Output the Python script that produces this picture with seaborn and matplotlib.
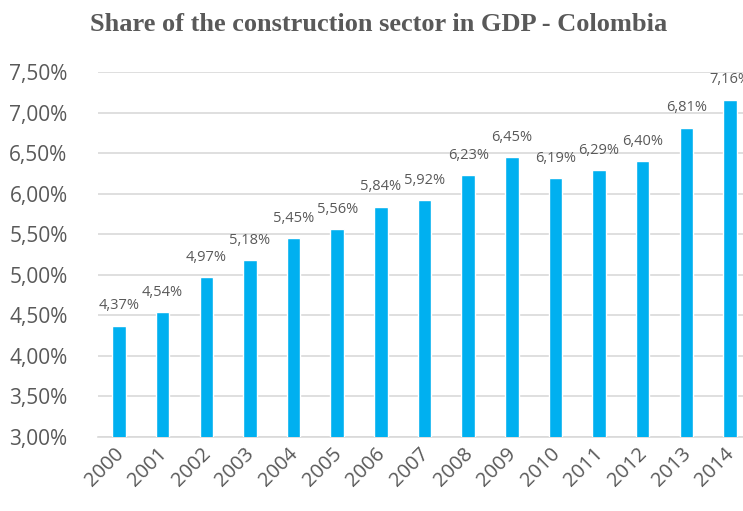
import numpy as np
import pandas as pd
import seaborn as sns
import matplotlib.pyplot as plt
import matplotlib.transforms as mtransforms

# data
years = [str(y) for y in range(2000, 2015)]
share = [4.37, 4.54, 4.97, 5.18, 5.45, 5.56, 5.84, 5.92, 6.23, 6.45, 6.19, 6.29, 6.40, 6.81, 7.16]
yticks = [3.0, 3.5, 4.0, 4.5, 5.0, 5.5, 6.0, 6.5, 7.0, 7.5]

df = pd.DataFrame({"Year": years, "Share": share})

sns.set_style("white")
plt.rcParams['font.family'] = ['Open Sans', 'DejaVu Sans']
grey = "#595959"

fig = plt.figure(figsize=(7.43, 5.11), dpi=100)
ax = fig.add_axes([0.132, 0.145, 0.881, 0.714])

sns.barplot(data=df, x="Year", y="Share", color="#00B0F0", width=0.31,
            saturation=1, ax=ax, zorder=3)

ax.set_ylim(3.0, 7.5)
ax.set_xlim(-0.48, 14.52)
ax.set_yticks(yticks)
ax.set_yticklabels([f"{v:.2f}%".replace(".", ",") for v in yticks])
ax.yaxis.grid(True, color="#D9D9D9", linewidth=1.2, zorder=0)
ax.tick_params(axis="y", labelsize=15, colors=grey, length=0, pad=22)
ax.tick_params(axis="x", labelsize=14.5, colors=grey, length=0, labelrotation=45, pad=5)
shift = mtransforms.ScaledTranslation(-4 / 72, 0, fig.dpi_scale_trans)
for lab in ax.get_xticklabels():
    lab.set_ha("right")
    lab.set_rotation_mode("anchor")
    lab.set_transform(lab.get_transform() + shift)
ax.set_xlabel("")
ax.set_ylabel("")
for s in ["top", "right", "left"]:
    ax.spines[s].set_visible(False)
ax.spines["bottom"].set_color("#D9D9D9")
ax.spines["bottom"].set_linewidth(1.2)

for i, v in enumerate(share):
    ax.annotate(f"{v:.2f}%".replace(".", ","), (i, v), xytext=(0, 9),
                textcoords="offset points", ha="center", va="bottom",
                fontsize=10.5, color=grey)

fig.text(0.51, 0.952, "Share of the construction sector in GDP - Colombia",
         ha="center", va="center", fontsize=19, fontweight="bold",
         color=grey, family="Liberation Serif")

fig.savefig("out.png", dpi=100)
